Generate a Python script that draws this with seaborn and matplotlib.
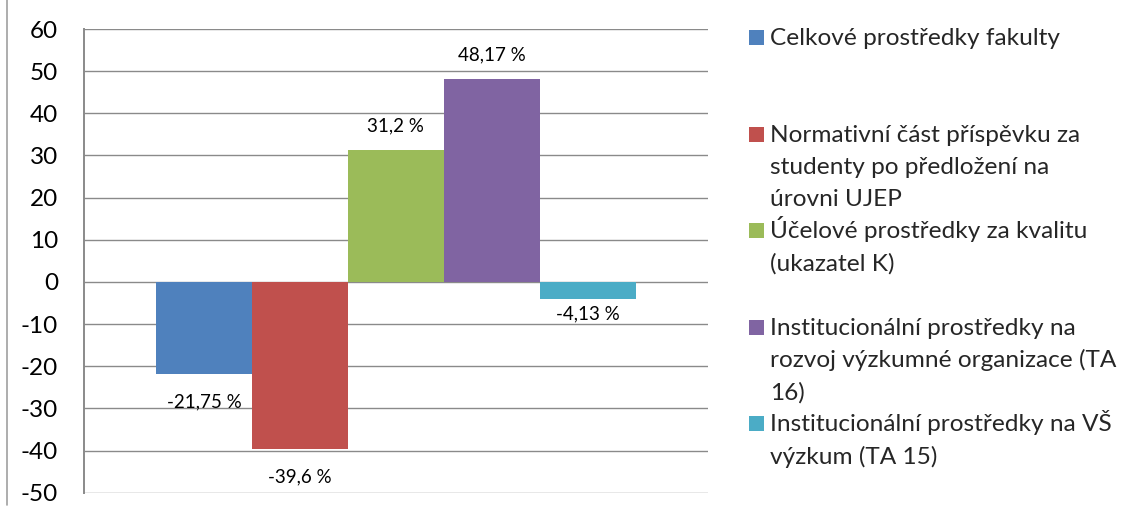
import matplotlib
matplotlib.use("Agg")
import matplotlib.pyplot as plt
from matplotlib.patches import Rectangle
from matplotlib.lines import Line2D
import pandas as pd
import seaborn as sns

# series names (legend wraps lines as in the original)
series = [
    "Celkové prostředky fakulty",
    "Normativní část příspěvku za\nstudenty po předložení na\núrovni UJEP",
    "Účelové prostředky za kvalitu\n(ukazatel K)",
    "Institucionální prostředky na\nrozvoj výzkumné organizace (TA\n16)",
    "Institucionální prostředky na VŠ\nvýzkum (TA 15)",
]
values = [-21.75, -39.6, 31.2, 48.17, -4.13]
colors = ["#4F81BD", "#C0504D", "#9BBB59", "#8064A2", "#4BACC6"]
y_ticks = list(range(-50, 61, 10))

sns.set_style("white")
plt.rcParams["font.family"] = ["Lato", "DejaVu Sans"]
plt.rcParams["axes.unicode_minus"] = False

df = pd.DataFrame({"x": [""] * len(series), "value": values, "series": series})

W, H = 1126, 516
fig = plt.figure(figsize=(W / 100, H / 100), dpi=100)
ax = fig.add_axes([84.3 / W, 1 - 492.7 / H, (707.5 - 84.3) / W, (492.7 - 29) / H])

sns.barplot(data=df, x="x", y="value", hue="series", hue_order=series,
            palette=colors, width=0.77, saturation=1, errorbar=None,
            legend=False, ax=ax, zorder=3, linewidth=0)

ax.set_ylim(-50, 60)
ax.set_yticks(y_ticks)
ax.set_xticks([])
ax.set_xlabel("")
ax.set_ylabel("")
ax.yaxis.grid(True, color="#8a8a8a", lw=1.0)
ax.set_axisbelow(True)
ax.tick_params(axis="y", length=0, pad=19, labelsize=17.5, labelcolor="black")
for side in ["top", "right", "bottom"]:
    ax.spines[side].set_visible(False)
ax.spines["left"].set_color("#8a8a8a")
ax.spines["left"].set_linewidth(1.4)

# data labels
for cont, v in zip(ax.containers, values):
    pad = 11.3 if v > 0 else 14.4
    if abs(v) < 10:
        pad = 4.4
    ax.bar_label(cont, labels=[f"{v:g} %".replace(".", ",")], padding=pad,
                 fontsize=13.5, color="black")

# legend like Excel: each entry takes three text rows, key on the first row
row = 0
for name, c in zip(series, colors):
    for i, line in enumerate(name.split("\n")):
        base = 45 + 32.2 * (row + i)
        fig.text(770 / W, 1 - base / H, line, fontsize=17.6, va="baseline", ha="left")
    base = 45 + 32.2 * row
    fig.add_artist(Rectangle((749 / W, 1 - base / H), 15 / W, 15 / H,
                             transform=fig.transFigure, facecolor=c, edgecolor="none"))
    row += 3

# thin border line on the left edge
fig.add_artist(Line2D([7.5 / W, 7.5 / W], [1 - 505 / H, 1], color="#a0a0a0", lw=1.2))

fig.savefig("out.png", dpi=100)
